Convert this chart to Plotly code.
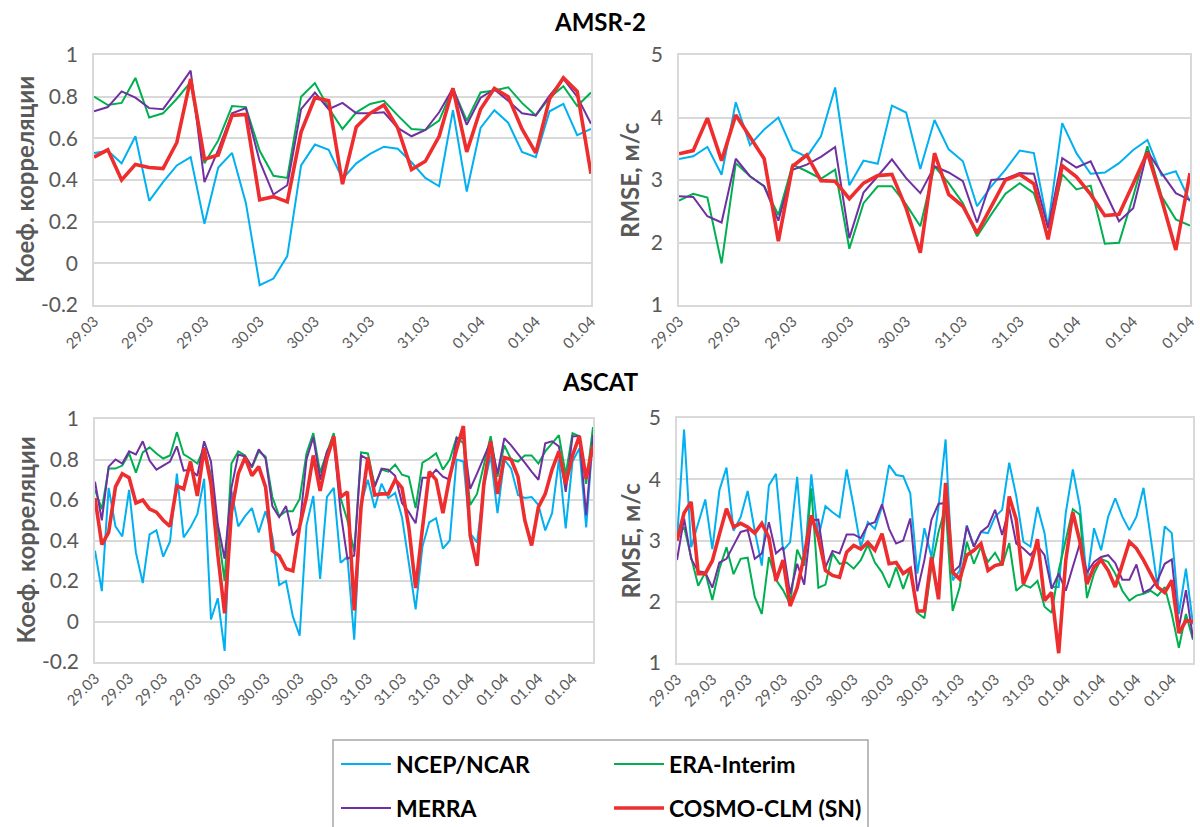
import plotly.graph_objects as go

# ---------------- data ----------------
series_names = ["NCEP/NCAR", "ERA-Interim", "MERRA", "COSMO-CLM (SN)"]
series_colors = ["#00B0F0", "#00B050", "#7030A0", "#EE2E2E"]
series_widths = [2, 2, 2, 3.6]

top_tick_labels = ["29.03", "29.03", "29.03", "30.03", "30.03",
                   "31.03", "31.03", "01.04", "01.04", "01.04"]
bottom_tick_labels = ["29.03", "29.03", "29.03", "29.03",
                      "30.03", "30.03", "30.03", "30.03",
                      "31.03", "31.03", "31.03",
                      "01.04", "01.04", "01.04", "01.04"]

corr_tick_vals = [-0.2, 0, 0.2, 0.4, 0.6, 0.8, 1]
corr_tick_text = ["-0.2", "0", "0.2", "0.4", "0.6", "0.8", "1"]
rmse_tick_vals = [1, 2, 3, 4, 5]
rmse_tick_text = ["1", "2", "3", "4", "5"]

# AMSR-2: correlation
amsr_corr_ncep = [0.53, 0.54, 0.48, 0.61, 0.30, 0.39, 0.47, 0.51, 0.19, 0.46,
                  0.53, 0.29, -0.105, -0.073, 0.035, 0.47, 0.57, 0.545, 0.405, 0.48,
                  0.525, 0.56, 0.55, 0.485, 0.41, 0.37, 0.735, 0.345, 0.65, 0.735,
                  0.675, 0.535, 0.51, 0.73, 0.765, 0.615, 0.645]
amsr_corr_era = [0.80, 0.76, 0.77, 0.89, 0.70, 0.72, 0.79, 0.87,
                 0.48, 0.59, 0.755, 0.75, 0.54, 0.42, 0.41,
                 0.80, 0.865, 0.745, 0.645, 0.725, 0.765, 0.78, 0.71, 0.645, 0.64,
                 0.685, 0.84, 0.685, 0.82, 0.83, 0.845, 0.77, 0.71, 0.795, 0.85, 0.755, 0.82]
amsr_corr_merra = [0.73, 0.75, 0.825, 0.795, 0.745, 0.74, 0.83, 0.925,
                   0.39, 0.545, 0.72, 0.745, 0.49, 0.33, 0.375,
                   0.74, 0.82, 0.74, 0.77, 0.72, 0.72, 0.725, 0.65, 0.61, 0.64,
                   0.725, 0.84, 0.665, 0.795, 0.835, 0.78, 0.72, 0.71, 0.805, 0.885, 0.80, 0.67]
amsr_corr_cosmo = [0.51, 0.545, 0.40, 0.475, 0.46, 0.455, 0.58, 0.885,
                   0.50, 0.52, 0.71, 0.715, 0.305, 0.32, 0.295,
                   0.63, 0.795, 0.78, 0.38, 0.655, 0.72, 0.76, 0.65, 0.45, 0.49,
                   0.61, 0.84, 0.535, 0.74, 0.84, 0.80, 0.645, 0.53, 0.79, 0.89, 0.825, 0.43]

# AMSR-2: RMSE
amsr_rmse_ncep = [3.335, 3.38, 3.53, 3.085, 4.245, 3.56, 3.81, 4.0, 3.48, 3.37,
                  3.70, 4.48, 2.915, 3.31, 3.26, 4.19, 4.08, 3.175, 3.96, 3.49,
                  3.30, 2.58, 2.90, 3.165, 3.47, 3.43, 2.26, 3.91, 3.43, 3.10,
                  3.12, 3.27, 3.48, 3.64, 3.07, 3.14, 2.66]
amsr_rmse_era = [2.67, 2.78, 2.72, 1.665, 3.27, 3.06, 2.90, 2.44, 3.245, 3.14,
                 3.02, 3.165, 1.90, 2.63, 2.90, 2.90, 2.61, 2.26, 3.22, 2.95,
                 2.63, 2.10, 2.45, 2.78, 2.95, 2.79, 2.10, 3.09, 2.85, 2.91,
                 1.98, 1.995, 2.74, 3.54, 2.74, 2.37, 2.27]
amsr_rmse_merra = [2.74, 2.73, 2.42, 2.32, 3.34, 3.06, 2.90, 2.35, 3.165, 3.245,
                   3.37, 3.53, 2.07, 2.80, 3.06, 3.33, 3.03, 2.79, 3.22, 3.12,
                   2.98, 2.32, 3.0, 3.02, 3.11, 3.10, 2.23, 3.35, 3.20, 3.30,
                   2.82, 2.34, 2.55, 3.46, 3.11, 2.79, 2.68]
amsr_rmse_cosmo = [3.42, 3.47, 3.99, 3.31, 4.04, 3.70, 3.34, 2.02, 3.22, 3.40,
                   2.99, 2.98, 2.70, 2.95, 3.07, 3.09, 2.55, 1.835, 3.43, 2.77,
                   2.58, 2.15, 2.58, 3.0, 3.09, 2.94, 2.05, 3.23, 3.05, 2.77,
                   2.43, 2.45, 2.94, 3.44, 2.69, 1.88, 3.11]

# ASCAT: correlation
ascat_corr_ncep = [0.35, 0.15, 0.66, 0.47, 0.42, 0.65, 0.34, 0.19, 0.43, 0.45,
                   0.32, 0.395, 0.73, 0.415, 0.465, 0.53, 0.705, 0.01, 0.115, -0.145,
                   0.645, 0.47, 0.52, 0.56, 0.44, 0.545, 0.42, 0.18, 0.20, 0.025,
                   -0.07, 0.475, 0.62, 0.21, 0.615, 0.66, 0.29, 0.32, -0.09, 0.58,
                   0.70, 0.56, 0.68, 0.61, 0.635, 0.515, 0.29, 0.06, 0.37, 0.49,
                   0.51, 0.36, 0.40, 0.80, 0.79, 0.435, 0.39, 0.665, 0.82, 0.535,
                   0.80, 0.755, 0.625, 0.61, 0.615, 0.575, 0.45, 0.535, 0.80, 0.46,
                   0.79, 0.855, 0.465, 0.92]
ascat_corr_era = [0.65, 0.555, 0.755, 0.755, 0.77, 0.83, 0.735, 0.835, 0.86, 0.83,
                  0.805, 0.82, 0.935, 0.825, 0.805, 0.78, 0.86, 0.72, 0.45, 0.20,
                  0.78, 0.84, 0.82, 0.76, 0.84, 0.815, 0.615, 0.52, 0.545, 0.545,
                  0.605, 0.83, 0.93, 0.735, 0.835, 0.93, 0.61, 0.50, 0.345, 0.835,
                  0.83, 0.67, 0.75, 0.74, 0.775, 0.725, 0.715, 0.56, 0.785, 0.805,
                  0.83, 0.75, 0.80, 0.91, 0.88, 0.575, 0.63, 0.775, 0.915, 0.715,
                  0.87, 0.80, 0.79, 0.82, 0.82, 0.78, 0.84, 0.88, 0.92, 0.725,
                  0.93, 0.915, 0.68, 0.96]
ascat_corr_merra = [0.69, 0.50, 0.765, 0.80, 0.78, 0.84, 0.825, 0.89, 0.795, 0.75,
                    0.77, 0.79, 0.865, 0.745, 0.75, 0.72, 0.89, 0.79, 0.48, 0.31,
                    0.66, 0.825, 0.815, 0.765, 0.85, 0.805, 0.57, 0.515, 0.57, 0.425,
                    0.465, 0.80, 0.91, 0.70, 0.84, 0.895, 0.54, 0.31, 0.325, 0.82,
                    0.80, 0.665, 0.755, 0.75, 0.72, 0.585, 0.54, 0.485, 0.71, 0.71,
                    0.75, 0.715, 0.70, 0.905, 0.905, 0.655, 0.73, 0.815, 0.89, 0.73,
                    0.905, 0.87, 0.83, 0.785, 0.74, 0.70, 0.88, 0.89, 0.865, 0.64,
                    0.915, 0.915, 0.525, 0.92]
ascat_corr_cosmo = [0.61, 0.38, 0.44, 0.665, 0.73, 0.71, 0.585, 0.60, 0.555, 0.54,
                    0.50, 0.47, 0.67, 0.655, 0.79, 0.62, 0.855, 0.68, 0.33, 0.04,
                    0.54, 0.73, 0.81, 0.72, 0.765, 0.665, 0.35, 0.325, 0.26, 0.25,
                    0.47, 0.615, 0.82, 0.645, 0.805, 0.915, 0.615, 0.64, 0.055, 0.565,
                    0.81, 0.625, 0.63, 0.63, 0.70, 0.66, 0.465, 0.165, 0.46, 0.74,
                    0.70, 0.535, 0.715, 0.85, 0.965, 0.425, 0.275, 0.68, 0.89, 0.63,
                    0.81, 0.80, 0.715, 0.50, 0.375, 0.565, 0.63, 0.75, 0.84, 0.68,
                    0.82, 0.915, 0.705, 0.87]

# ASCAT: RMSE
ascat_rmse_ncep = [3.0, 4.81, 2.89, 3.27, 3.67, 2.86, 3.82, 4.19, 3.16, 3.38,
                   3.81, 3.16, 2.59, 3.90, 4.09, 2.84, 2.97, 4.04, 2.59, 4.08,
                   3.05, 3.56, 3.46, 3.38, 4.16, 3.55, 2.89, 3.30, 3.19, 3.55,
                   4.23, 4.07, 4.05, 3.77, 2.46, 3.20, 2.73, 3.55, 4.65, 2.35,
                   2.51, 3.25, 2.90, 3.14, 3.12, 3.39, 3.50, 4.27, 3.72, 2.98,
                   2.90, 3.55, 3.12, 2.24, 2.24, 3.45, 4.16, 3.55, 2.35, 3.20,
                   2.84, 3.39, 3.69, 3.39, 3.17, 3.39, 3.86, 3.06, 2.24, 3.23,
                   3.12, 1.80, 2.54, 1.63]
ascat_rmse_era = [3.05, 3.22, 2.73, 2.26, 2.48, 2.03, 2.54, 2.89, 2.45, 2.70,
                  2.72, 2.08, 1.80, 2.73, 2.36, 2.19, 1.96, 2.85, 2.59, 3.85,
                  2.23, 2.28, 2.79, 2.62, 2.64, 2.54, 2.68, 2.93, 2.64, 2.48,
                  2.23, 2.56, 2.21, 2.54, 1.82, 1.73, 2.57, 3.14, 3.55, 1.85,
                  2.24, 2.98, 2.62, 2.90, 2.65, 2.80, 2.59, 2.96, 2.18, 2.28,
                  2.23, 2.34, 1.92, 1.82, 2.51, 3.0, 3.51, 3.42, 2.06, 2.46,
                  2.70, 2.65, 2.46, 2.18, 2.02, 2.10, 2.13, 2.18, 2.10, 2.24,
                  1.80, 1.25, 1.80, 1.38]
ascat_rmse_merra = [2.68, 3.36, 2.70, 2.50, 2.48, 2.23, 2.64, 2.70, 2.92, 3.14,
                    3.17, 2.70, 2.79, 3.30, 2.79, 2.89, 2.13, 2.62, 2.28, 3.33,
                    3.34, 2.56, 2.83, 2.79, 3.10, 3.10, 3.04, 3.26, 3.30, 3.59,
                    3.19, 2.95, 3.0, 3.36, 2.17, 2.68, 3.34, 3.60, 3.61, 2.48,
                    2.59, 3.23, 2.90, 3.14, 3.23, 3.50, 3.09, 3.53, 2.95, 2.87,
                    2.76, 2.91, 2.76, 2.21, 2.46, 2.18, 2.57, 2.95, 2.48, 2.65,
                    2.73, 2.76, 2.63, 2.36, 2.36, 2.61, 2.15, 2.21, 2.35, 2.62,
                    2.69, 1.58, 2.19, 1.40]
ascat_rmse_cosmo = [3.0, 3.45, 3.63, 2.46, 2.46, 2.67, 3.10, 3.52, 3.22, 3.28,
                    3.22, 3.12, 3.28, 3.05, 2.34, 2.68, 1.93, 2.23, 2.75, 3.41,
                    3.05, 2.51, 2.43, 2.40, 2.81, 2.92, 2.86, 2.97, 2.84, 3.11,
                    2.62, 2.64, 2.46, 2.54, 1.85, 1.85, 2.73, 2.04, 3.94, 2.48,
                    2.37, 2.76, 2.84, 2.95, 2.51, 2.59, 2.62, 3.72, 3.34, 2.29,
                    2.57, 3.02, 2.02, 2.15, 1.16, 2.68, 3.46, 2.98, 2.29, 2.57,
                    2.68, 2.51, 2.24, 2.62, 2.98, 2.87, 2.68, 2.46, 2.24, 2.15,
                    2.35, 1.49, 1.69, 1.68]

# ---------------- figure ----------------
W, H = 1200, 827
FONT = "Lato"
GRID = "#D9D9D9"
TXT = "#595959"


def px_x(a, b):
    return [a / W, b / W]


def px_y(top, bottom):
    return [1 - bottom / H, 1 - top / H]


panels = [
    ("x", "y", [amsr_corr_ncep, amsr_corr_era, amsr_corr_merra, amsr_corr_cosmo],
     px_x(94, 591), px_y(55, 305), 4, top_tick_labels, "corr", 25),
    ("x2", "y2", [amsr_rmse_ncep, amsr_rmse_era, amsr_rmse_merra, amsr_rmse_cosmo],
     px_x(679, 1190), px_y(55, 305), 4, top_tick_labels, "rmse", 630),
    ("x3", "y3", [ascat_corr_ncep, ascat_corr_era, ascat_corr_merra, ascat_corr_cosmo],
     px_x(95, 593), px_y(419, 662), 5, bottom_tick_labels, "corr", 25),
    ("x4", "y4", [ascat_rmse_ncep, ascat_rmse_era, ascat_rmse_merra, ascat_rmse_cosmo],
     px_x(677, 1193), px_y(418, 663), 5, bottom_tick_labels, "rmse", 630),
]

fig = go.Figure()
layout = {}
annotations = [
    dict(text="<b>AMSR-2</b>", x=600 / W, y=1 - 22 / H, xref="paper", yref="paper",
         xanchor="center", yanchor="middle",
         showarrow=False, font=dict(family=FONT, size=24, color="black")),
    dict(text="<b>ASCAT</b>", x=600 / W, y=1 - 381 / H, xref="paper", yref="paper",
         xanchor="center", yanchor="middle",
         showarrow=False, font=dict(family=FONT, size=24, color="black")),
]
for pi, (xa, ya, data, xd, yd, step, labels, kind, title_x) in enumerate(panels):
    n = len(data[0])
    xs = list(range(n))
    for si in range(4):
        fig.add_trace(go.Scatter(
            x=xs, y=data[si], mode="lines", name=series_names[si],
            line=dict(color=series_colors[si], width=series_widths[si]),
            xaxis=xa, yaxis=ya,
            showlegend=(pi == 0),
            legend=("legend" if si < 2 else "legend2"),
        ))
    xkey = "xaxis" + xa[1:]
    ykey = "yaxis" + ya[1:]
    layout[xkey] = dict(
        domain=xd, anchor=ya, range=[0, n - 1], automargin=False,
        tickvals=[i * step for i in range(len(labels))], ticktext=labels,
        tickangle=-45, tickfont=dict(family=FONT, size=15, color=TXT),
        ticklabeloverflow="allow",
        showgrid=False, zeroline=False,
        showline=True, linecolor=GRID, linewidth=1.5, mirror=True, ticks="",
    )
    if kind == "corr":
        yr, tv, tt, title = [-0.2, 1], corr_tick_vals, corr_tick_text, "Коеф. корреляции"
    else:
        yr, tv, tt, title = [1, 5], rmse_tick_vals, rmse_tick_text, "RMSE, м/с"
    layout[ykey] = dict(
        domain=yd, anchor=xa, range=yr, tickvals=tv, ticktext=tt, automargin=False,
        tickfont=dict(family=FONT, size=21, color=TXT),
        showgrid=True, gridcolor=GRID, gridwidth=1.5, zeroline=False,
        showline=True, linecolor=GRID, linewidth=1.5, mirror=True, ticks="",
        ticklabelstandoff=10,
    )
    annotations.append(dict(
        text="<b>" + title + "</b>", textangle=-90,
        x=title_x / W, y=(yd[0] + yd[1]) / 2, xref="paper", yref="paper",
        xanchor="center", yanchor="middle", showarrow=False,
        font=dict(family=FONT, size=24, color=TXT),
    ))

fig.update_layout(**layout)

legend_font = dict(family=FONT, size=23, color="black", weight="bold")
fig.update_layout(
    width=W, height=H,
    margin=dict(l=0, r=0, t=0, b=0, autoexpand=False),
    paper_bgcolor="white", plot_bgcolor="white",
    font=dict(family=FONT, color="black"),
    legend=dict(
        orientation="h", x=336 / W, y=1 - 764 / H, xanchor="left", yanchor="middle",
        entrywidth=208, entrywidthmode="pixels", font=legend_font,
        bgcolor="rgba(0,0,0,0)", borderwidth=0, itemwidth=50,
    ),
    legend2=dict(
        orientation="h", x=336 / W, y=1 - 808 / H, xanchor="left", yanchor="middle",
        entrywidth=208, entrywidthmode="pixels", font=legend_font,
        bgcolor="rgba(0,0,0,0)", borderwidth=0, itemwidth=50,
    ),
    annotations=annotations,
    shapes=[
        dict(type="rect", xref="paper", yref="paper",
             x0=333 / W, x1=868 / W, y0=-0.02, y1=1 - 740 / H,
             line=dict(color="#A6A6A6", width=1.5), fillcolor="rgba(0,0,0,0)"),
    ],
)

fig.write_html("out.html", config={"displayModeBar": False},
               post_script="document.body.style.margin='0px';")
